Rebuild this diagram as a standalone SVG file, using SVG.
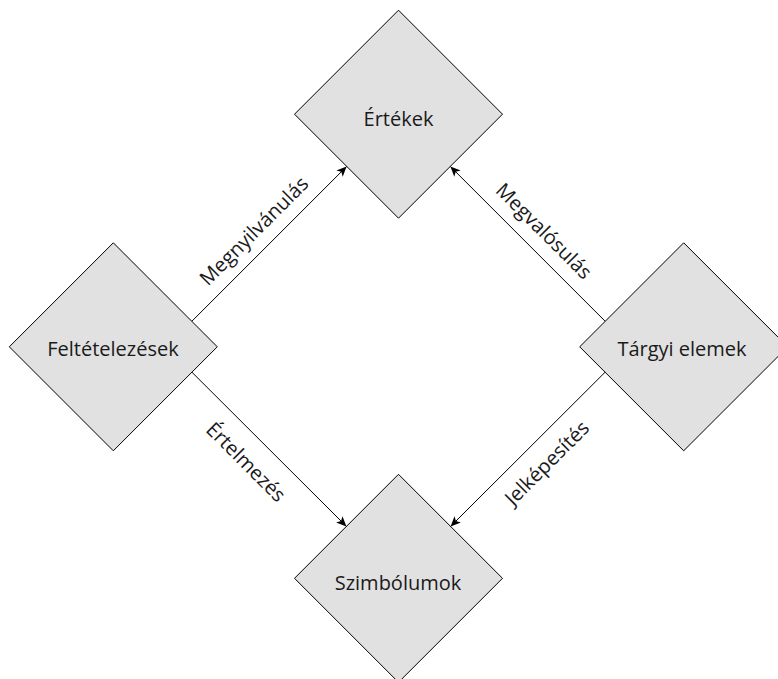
<svg xmlns="http://www.w3.org/2000/svg" width="778" height="679" viewBox="0 0 778 679">
  <style>
    .node { fill: #e1e1e1; stroke: #000; stroke-width: 1; }
    .ntext { font-family: "Open Sans", "Noto Sans", sans-serif; font-size: 20px; fill: #1a1a1a; text-anchor: middle; }
    .edge { fill: none; stroke: #000; stroke-width: 1; marker-end: url(#arrow); }
    .elabel { font-family: "Open Sans", "Noto Sans", sans-serif; font-size: 20px; fill: #1a1a1a; text-anchor: middle; }
  </style>
  <defs>
    <marker id="arrow" viewBox="-11 -6 12 12" refX="0" refY="0" markerWidth="12" markerHeight="12" markerUnits="userSpaceOnUse" orient="auto">
      <path d="M0,0 L-10,-4.5 L-7.5,0 L-10,4.5 Z" fill="#000"/>
    </marker>
  </defs>
  <rect width="778" height="679" fill="#fff"/>

  <!-- nodes -->
  <g id="ertekek">
    <polygon class="node" points="398.5,10.2 502.5,114.2 398.5,218.2 294.5,114.2"/>
    <text class="ntext" x="398.5" y="126">Értékek</text>
  </g>
  <g id="feltetelezesek">
    <polygon class="node" points="113.3,242.8 217.3,346.8 113.3,450.8 9.3,346.8"/>
    <text class="ntext" x="113" y="356">Feltételezések</text>
  </g>
  <g id="targyi-elemek">
    <polygon class="node" points="683.7,242.8 787.7,346.8 683.7,450.8 579.7,346.8"/>
    <text class="ntext" x="682" y="356">Tárgyi elemek</text>
  </g>
  <g id="szimbolumok">
    <polygon class="node" points="398.5,474.3 502.5,578.3 398.5,682.3 294.5,578.3"/>
    <text class="ntext" x="398" y="590">Szimbólumok</text>
  </g>

  <!-- connectors -->
  <g id="edges">
    <line class="edge" x1="191.9" y1="321.2" x2="346.6" y2="166.5"/>
    <line class="edge" x1="605.1" y1="321.2" x2="450.4" y2="166.5"/>
    <line class="edge" x1="191.9" y1="372.2" x2="346.4" y2="526.4"/>
    <line class="edge" x1="605.1" y1="372.2" x2="450.6" y2="526.4"/>
  </g>

  <!-- connector labels -->
  <g id="edge-labels">
    <text class="elabel" transform="translate(254,231) rotate(-45)" y="7">Megnyilvánulás</text>
    <text class="elabel" transform="translate(544,231) rotate(45)" y="7">Megvalósulás</text>
    <text class="elabel" transform="translate(246,462) rotate(45)" y="7">Értelmezés</text>
    <text class="elabel" transform="translate(547,463) rotate(-45)" y="7">Jelképesítés</text>
  </g>
</svg>
